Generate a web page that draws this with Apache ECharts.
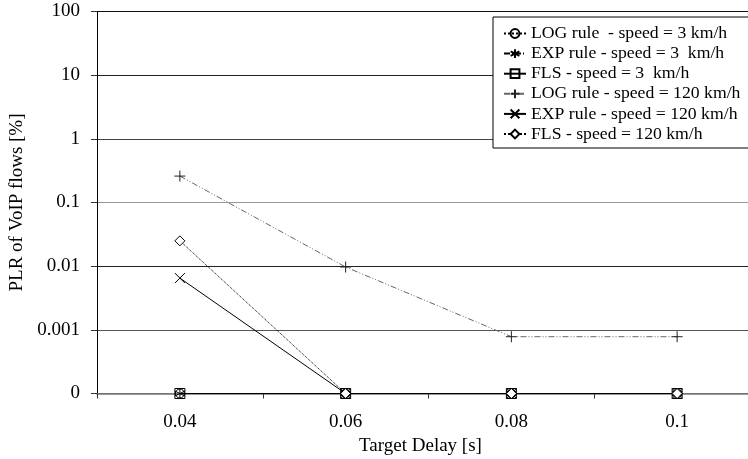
<!DOCTYPE html>
<html>
<head>
<meta charset="utf-8">
<script src="https://cdn.jsdelivr.net/npm/echarts@6/dist/echarts.min.js"></script>
<style>
  html, body { margin: 0; padding: 0; background: #fff; }
  #chart { width: 748px; height: 459px; }
</style>
</head>
<body>
<div id="chart"></div>
<script>
// Target delay values on the x axis
const categories = ['0.04', '0.06', '0.08', '0.1'];

// Packet loss ratio [%] per scheduler and user speed (0 = no loss)
const logSlow = [0, 0, 0, 0];
const expSlow = [0, 0, 0, 0];
const flsSlow = [0, 0, 0, 0];
const logFast = [0.26, 0.0097, 0.00078, 0.00078];
const expFast = [0.0065, 0, 0, 0];
const flsFast = [0.025, 0, 0, 0];

// Log-axis tick labels, bottom decade is the "zero" floor
const yTickLabels = ['0', '0.001', '0.01', '0.1', '1', '10', '100'];
const Y_FLOOR = 0.0001;

const FONT = "'Liberation Serif', 'Times New Roman', serif";

// zero cannot be placed on a log scale, so it sits on the axis floor
const toLog = arr => arr.map(v => (v === 0 ? Y_FLOOR : v));

const PLUS = 'path://M5,0L5,10M0,5L10,5';
const CROSS = 'path://M0,0L10,10M0,10L10,0';
const STAR = 'path://M5,0L5,10M0,2.5L10,7.5M0,7.5L10,2.5';
const CLEAR = 'rgba(255,255,255,0)';

function makeSeries(name, data, opts) {
  return {
    name: name,
    type: 'line',
    data: toLog(data),
    symbol: opts.symbol,
    symbolSize: opts.size,
    showAllSymbol: true,
    animation: false,
    z: opts.z || 2,
    lineStyle: { color: opts.lineColor || '#000', width: 1, type: opts.dash },
    itemStyle: {
      color: opts.fill || '#000',
      borderColor: opts.stroke || '#000',
      borderWidth: 1
    },
    emphasis: { disabled: true }
  };
}

const series = [
  makeSeries('LOG rule  - speed = 3 km/h', logSlow, { symbol: 'circle', size: 9, fill: CLEAR, dash: 'dotted' }),
  makeSeries('EXP rule - speed = 3  km/h', expSlow, { symbol: STAR, size: 10, dash: [6, 2, 1, 2] }),
  makeSeries('FLS - speed = 3  km/h', flsSlow, { symbol: 'rect', size: 10, fill: CLEAR, dash: 'solid' }),
  makeSeries('LOG rule - speed = 120 km/h', logFast, { symbol: PLUS, size: 11, dash: [6, 2, 1, 2, 1, 2], lineColor: '#666', stroke: '#222' }),
  makeSeries('EXP rule - speed = 120 km/h', expFast, { symbol: CROSS, size: 10, dash: 'solid' }),
  makeSeries('FLS - speed = 120 km/h', flsFast, { symbol: 'diamond', size: 10, fill: '#fff', dash: 'dotted' })
];

const chart = echarts.init(document.getElementById('chart'), null, { renderer: 'canvas' });

chart.setOption({
  backgroundColor: '#fff',
  animation: false,
  textStyle: { fontFamily: FONT, color: '#000' },
  grid: { left: 97, top: 11.5, bottom: 65.5, right: -12, containLabel: false, outerBoundsMode: 'none' },
  legend: {
    orient: 'vertical',
    left: 493,
    top: 17,
    padding: [7.5, 80, 5, 10],
    itemWidth: 22,
    itemHeight: 11,
    itemGap: 2.1,
    backgroundColor: '#fff',
    borderColor: '#000',
    borderWidth: 1,
    borderRadius: 0,
    selectedMode: false,
    textStyle: { fontFamily: FONT, fontSize: 17.7, color: '#000' },
    data: series.map(s => s.name)
  },
  xAxis: {
    type: 'category',
    data: categories,
    boundaryGap: true,
    name: 'Target Delay [s]',
    nameLocation: 'middle',
    nameGap: 39.5,
    nameTextStyle: { fontFamily: FONT, fontSize: 19, color: '#000', padding: [0, 16, 0, 0] },
    axisLine: { lineStyle: { color: '#777', width: 1.5 } },
    axisTick: { show: true, alignWithLabel: false, length: 5, lineStyle: { color: '#333' } },
    axisLabel: { fontFamily: FONT, fontSize: 19, color: '#000', margin: 19.5 },
    splitLine: { show: false }
  },
  yAxis: {
    type: 'log',
    logBase: 10,
    min: Y_FLOOR,
    max: 100,
    interval: 1,
    name: 'PLR of VoIP flows [%]',
    nameLocation: 'middle',
    nameGap: 65.5,
    nameRotate: 90,
    nameTextStyle: { fontFamily: FONT, fontSize: 19, color: '#000' },
    axisLine: { show: true, lineStyle: { color: '#000', width: 1 } },
    axisTick: { show: true, length: 6, lineStyle: { color: '#333' } },
    axisLabel: {
      fontFamily: FONT,
      fontSize: 19,
      color: '#000',
      margin: 17,
      formatter: v => yTickLabels[Math.round(Math.log10(v)) + 4]
    },
    splitLine: {
      show: true,
      lineStyle: { color: ['#777', '#555', '#222', '#999', '#444', '#222', '#111'], width: 1 }
    }
  },
  series: series
});
</script>
</body>
</html>
